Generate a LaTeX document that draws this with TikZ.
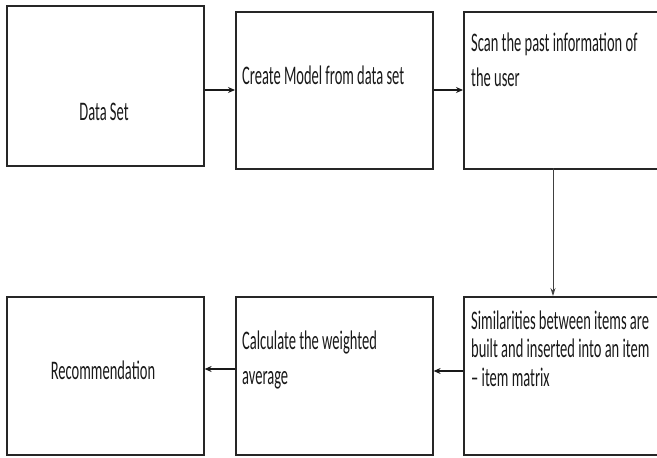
\documentclass[tikz,border=0pt]{standalone}
\usepackage{fontspec}
\setmainfont{Carlito}
\usetikzlibrary{arrows.meta}
\tikzset{
  box/.style={draw=black!85, line width=1.6pt, rectangle, inner sep=0pt, minimum width=197pt, minimum height=157pt, anchor=north west},
  txt/.style={inner sep=0pt, anchor=west, align=left, font=\fontsize{14.5}{17}\selectfont, text=black!90},
  arr/.style={draw=black!90, line width=1.4pt, -{Stealth[length=7pt,width=6pt]}},
  varr/.style={draw=black!75, line width=0.8pt, -{Stealth[length=8pt,width=5pt]}}
}
\newcommand{\tall}[1]{\scalebox{1}[1.85]{#1}}
\begin{document}
\begin{tikzpicture}[x=1pt,y=-1pt]
\useasboundingbox (0,0) rectangle (657,458);
\clip (0,0) rectangle (657,458);
\node[box, minimum height=160pt] (a) at (6,5) {};
\node[box] (b) at (235,11) {};
\node[box] (c) at (463,11) {};
\node[box, minimum height=158pt] (d) at (6,296) {};
\node[box, minimum height=158pt] (e) at (235,296) {};
\node[box, minimum height=158pt] (f) at (463,296) {};
\node[txt, anchor=center] (ta) at (104,112) {\tall{Data Set}};
\node[txt] (tb) at (242,75) {\tall{Create Model from data set}};
\node[txt, anchor=north west] (tc) at (471,29) {\tall{\begin{tabular}{@{}l@{}}Scan the past information of\\[2pt] the user\end{tabular}}};
\node[txt, anchor=center] (td) at (103,370) {\tall{Recommendation}};
\node[txt, anchor=north west] (te) at (242,327) {\tall{\begin{tabular}{@{}l@{}}Calculate the weighted\\[2pt] average\end{tabular}}};
\node[txt, anchor=north west] (tf) at (471,307) {\tall{\begin{tabular}{@{}l@{}}Similarities between items are\\[-1.5pt] built and inserted into an item\\[-1.5pt] – item matrix\end{tabular}}};
\coordinate (c1) at (553,168);
\coordinate (f1) at (553,296);
\draw[arr] (a.east |- 0,90) -- (b.west |- 0,90);
\draw[arr] (b.east |- 0,90) -- (c.west |- 0,90);
\draw[varr] (c1) -- (f1);
\draw[arr] (f.west |- 0,371) -- (e.east |- 0,371);
\draw[arr] (e.west |- 0,369) -- (d.east |- 0,369);
\end{tikzpicture}
\end{document}
